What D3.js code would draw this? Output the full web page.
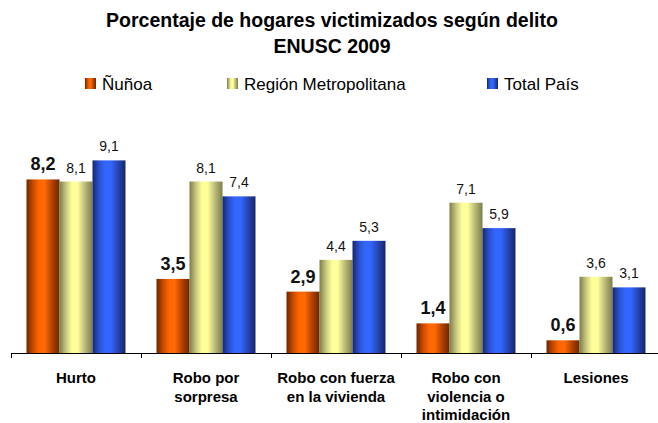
<!DOCTYPE html>
<html>
<head>
<meta charset="utf-8">
<script src="https://d3js.org/d3.v7.min.js"></script>
<style>
  body { margin: 0; background: #fff; }
  text { font-family: "Liberation Sans", Arial, sans-serif; fill: #000; }
</style>
</head>
<body>
<div id="chart"></div>
<script>
const categories = ["Hurto", "Robo por\nsorpresa", "Robo con fuerza\nen la vivienda", "Robo con\nviolencia o\nintimidación", "Lesiones"];
const series = ["Ñuñoa", "Región Metropolitana", "Total País"];
const nunoa = [8.2, 3.5, 2.9, 1.4, 0.6];
const region = [8.1, 8.1, 4.4, 7.1, 3.6];
const pais = [9.1, 7.4, 5.3, 5.9, 3.1];
const values = [nunoa, region, pais];

const width = 658, height = 423;
const margin = {top: 99, right: 0, bottom: 70, left: 11};

const svg = d3.select("#chart").append("svg")
    .attr("width", width)
    .attr("height", height);

// gradients to imitate the cylinder-like shading
const grads = [
  {id: "g0", stops: ["#6b2600", "#c84a00", "#ff6600", "#ff6a06", "#b04000", "#6b2600"]},
  {id: "g1", stops: ["#7d7d48", "#c8c880", "#ffff99", "#ffff9c", "#b8b878", "#7d7d48"]},
  {id: "g2", stops: ["#16266e", "#2a52cc", "#3366ff", "#3366ff", "#2545b0", "#16266e"]}
];
const offsets = [0, 0.2, 0.38, 0.55, 0.78, 1];
const defs = svg.append("defs");
grads.forEach(g => {
  const lg = defs.append("linearGradient").attr("id", g.id)
    .attr("x1", "0%").attr("x2", "100%").attr("y1", "0%").attr("y2", "0%");
  g.stops.forEach((c, i) => lg.append("stop").attr("offset", offsets[i]).attr("stop-color", c));
});

const x = d3.scaleBand()
    .domain(categories)
    .range([margin.left, 661])
    .paddingInner(0)
    .paddingOuter(0);

const xs = d3.scaleBand()
    .domain(series)
    .range([0, x.bandwidth()])
    .paddingInner(0)
    .paddingOuter(0.47);

const y = d3.scaleLinear()
    .domain([0, 12])
    .range([height - margin.bottom, margin.top]);

// title
svg.append("text").attr("x", 332).attr("y", 27)
  .attr("text-anchor", "middle").style("font-size", "19.5px").style("font-weight", "bold")
  .text("Porcentaje de hogares victimizados según delito");
svg.append("text").attr("x", 332).attr("y", 53)
  .attr("text-anchor", "middle").style("font-size", "19.5px").style("font-weight", "bold")
  .text("ENUSC 2009");

// legend
const legendX = [85, 227, 487];
series.forEach((s, i) => {
  svg.append("rect").attr("x", legendX[i]).attr("y", 78)
    .attr("width", 11).attr("height", 11).attr("fill", "url(#g" + i + ")");
  svg.append("text").attr("x", legendX[i] + 17).attr("y", 90)
    .style("font-size", "17px").text(s);
});

// bars
const groups = svg.append("g").selectAll("g")
  .data(categories)
  .join("g")
  .attr("transform", d => `translate(${x(d)},0)`);

series.forEach((s, si) => {
  groups.append("rect")
    .attr("x", xs(s))
    .attr("width", xs.bandwidth())
    .attr("y", (d, ci) => y(values[si][ci]))
    .attr("height", (d, ci) => y(0) - y(values[si][ci]))
    .attr("fill", "url(#g" + si + ")");
  groups.append("text")
    .attr("x", xs(s) + xs.bandwidth() / 2)
    .attr("y", (d, ci) => y(values[si][ci]) - 9)
    .attr("text-anchor", "middle")
    .style("font-size", si === 0 ? "18px" : "14px")
    .style("font-weight", si === 0 ? "bold" : "normal")
    .style("fill", "#111")
    .text((d, ci) => String(values[si][ci]).replace(".", ","));
});

// x axis
const axis = svg.append("g")
  .attr("transform", `translate(0,${y(0)})`)
  .call(d3.axisBottom(x).tickSize(0).tickFormat(""));
axis.select(".domain").attr("stroke", "#000").attr("d", `M${margin.left},0.5H661`);
const bounds = categories.map(c => x(c)).concat([x.range()[1]]);
axis.selectAll(".sep").data(bounds).join("line").attr("class", "sep")
  .attr("x1", d => Math.round(d) + 0.5).attr("x2", d => Math.round(d) + 0.5)
  .attr("y1", 0).attr("y2", 5).attr("stroke", "#000");

categories.forEach(c => {
  const t = svg.append("text")
    .attr("x", x(c) + x.bandwidth() / 2)
    .attr("y", 383)
    .attr("text-anchor", "middle")
    .style("font-size", "15px").style("font-weight", "bold");
  c.split("\n").forEach((line, i) => {
    t.append("tspan").attr("x", x(c) + x.bandwidth() / 2).attr("dy", i === 0 ? 0 : 18.5).text(line);
  });
});
</script>
</body>
</html>
